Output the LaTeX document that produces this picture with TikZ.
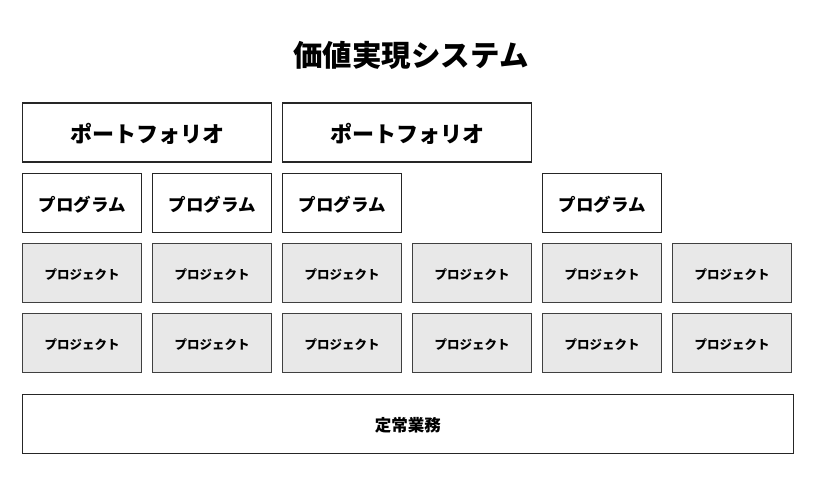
\documentclass[tikz,border=0pt]{standalone}
\usepackage{fontspec}
\setmainfont{Noto Sans CJK JP}
\tikzset{
  box/.style={rectangle, draw=black!85, line width=1.2pt, minimum height=59pt,
    minimum width=119.5pt, text centered, inner sep=0pt, text depth=0pt,
    font=\bfseries},
  portfoliobox/.style={box, minimum width=249.4pt, text height=20.9pt,
    font=\bfseries\fontsize{22}{24}\selectfont},
  programbox/.style={box, text height=16.8pt, font=\bfseries\fontsize{17.5}{20}\selectfont},
  projectbox/.style={box, draw=black!75, fill={black!9}, text height=12.2pt,
    font=\bfseries\fontsize{12.5}{14}\selectfont},
  basebox/.style={box, minimum width=771pt, text height=15.7pt,
    font=\bfseries\fontsize{16.5}{18}\selectfont}
}
\begin{document}
\begin{tikzpicture}[x=1pt, y=-1pt]
\useasboundingbox (0,0) rectangle (824,492);

%Title
\node (Title) at (411,55) [font=\bfseries\fontsize{29.5}{32}\selectfont]{価値実現システム};

%Portfolios
\node (Portfolio1) at (147,132.5) [portfoliobox]{ポートフォリオ};
\node (Portfolio2) at (407,132.5) [portfoliobox]{ポートフォリオ};

%Programs
\foreach \c in {0,1,2,4}
  \node (Program\c) at (82+130*\c,203) [programbox]{プログラム};

%Projects
\foreach \c in {0,...,5}{
  \node (ProjectA\c) at (82+130*\c,273) [projectbox]{プロジェクト};
  \node (ProjectB\c) at (82+130*\c,343) [projectbox]{プロジェクト};
}

%Operations
\node (Operations) at (407.8,424) [basebox]{定常業務};

\end{tikzpicture}
\end{document}
